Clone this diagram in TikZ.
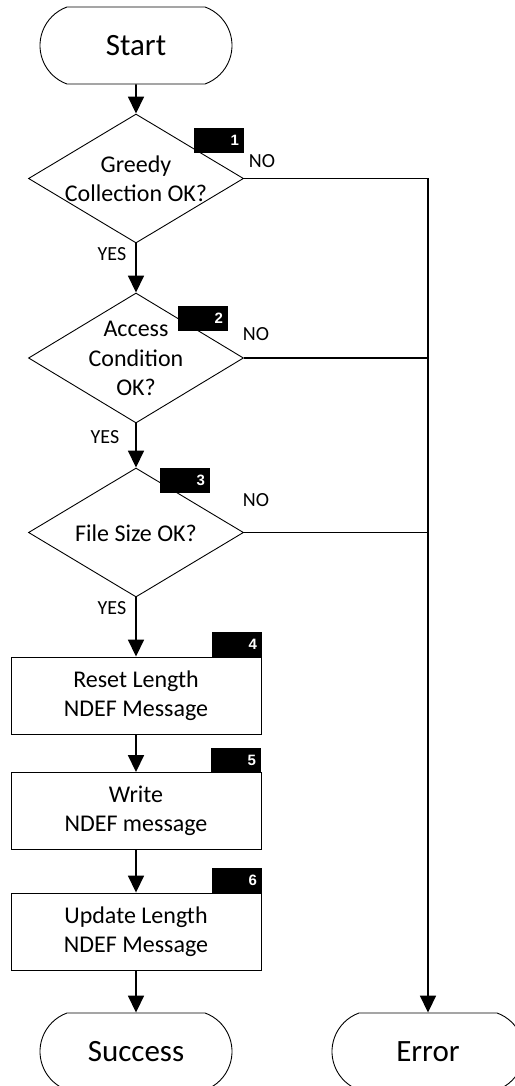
\documentclass[tikz,border=0pt]{standalone}
\usepackage{fontspec}
\setmainfont{Carlito}
\newfontfamily\badgefont{Liberation Sans}
\usetikzlibrary{shapes.geometric,shapes.misc,arrows.meta}
\tikzset{
  term/.style={draw, line width=0.9pt, rounded rectangle, rounded rectangle arc length=140,
    minimum width=192pt, minimum height=77pt, inner sep=0pt, font=\fontsize{31}{36}\selectfont},
  dec/.style={draw, line width=0.9pt, diamond, minimum width=215pt, minimum height=129pt, inner sep=0pt},
  dtext/.style={align=center, inner sep=0pt, font=\fontsize{24}{29.5}\selectfont},
  proc/.style={draw, line width=0.9pt, rectangle, minimum width=250pt, minimum height=77pt,
    align=center, inner sep=0pt, font=\fontsize{24}{29.5}\selectfont},
  badge/.style={fill=black, text=white, font=\badgefont\bfseries\fontsize{15}{15}\selectfont,
    minimum height=25pt, text width=40pt, inner xsep=5pt, inner ysep=0pt, align=right},
  lab/.style={inner sep=0pt, font=\fontsize{20}{24}\selectfont},
  conn/.style={line width=1.7pt},
  arr/.style={conn, -{Triangle[width=16pt,length=17pt]}}
}
\begin{document}
\begin{tikzpicture}[x=1pt,y=-1pt]
\useasboundingbox (0,0) rectangle (514,1086);
% shapes
\node[term] (start) at (136,45.5) {Start};
\node[dec] (d1) at (136,178.5) {};
\node[dtext] (d1t) at (136,179) {Greedy\\Collection OK?};
\node[dec, minimum height=130pt] (d2) at (136,358) {};
\node[dtext] (d2t) at (136,358.5) {Access\\Condition\\OK?};
\node[dec] (d3) at (136,532.5) {};
\node[dtext] (d3t) at (136,533) {File Size OK?};
\node[proc] (p4) at (136,695.5) {Reset Length\\NDEF Message};
\node[proc] (p5) at (136,811) {Write\\NDEF message};
\node[proc] (p6) at (136,931.5) {Update Length\\NDEF Message};
\node[term] (succ) at (136,1051.5) {Success};
\node[term] (err) at (428,1051.5) {Error};
% badges
\node[badge] (b1) at (219,140.5) {1};
\node[badge] (b2) at (203,318) {2};
\node[badge] (b3) at (185,480.5) {3};
\node[badge] (b4) at (237,644) {4};
\node[badge] (b5) at (236,760.5) {5};
\node[badge] (b6) at (237,880.5) {6};
% labels
\node[lab] (no1) at (262,161) {NO};
\node[lab] (no2) at (256,334) {NO};
\node[lab] (no3) at (256,500) {NO};
\node[lab] (yes1) at (112,254) {YES};
\node[lab] (yes2) at (105,437.5) {YES};
\node[lab] (yes3) at (112,608) {YES};
% connectors
\draw[arr] (start) -- (d1);
\draw[arr] (d1) -- (d2);
\draw[arr] (d2) -- (d3);
\draw[arr] (d3) -- (p4);
\draw[arr] (p4) -- (p5);
\draw[arr] (p5) -- (p6);
\draw[arr] (p6) -- (succ);
\draw[arr] (d1.east) -| (err.north);
\draw[conn] (d2.east) -- (d2.east -| err.north);
\draw[conn] (d3.east) -- (d3.east -| err.north);
\end{tikzpicture}
\end{document}
